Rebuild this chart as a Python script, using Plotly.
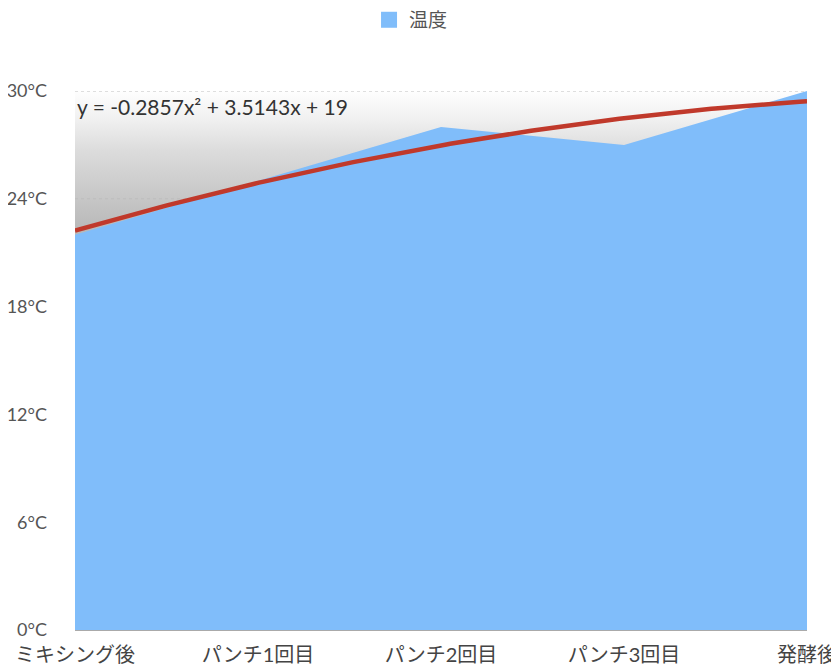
import numpy as np
import plotly.graph_objects as go

# data
categories = ['ミキシング後', 'パンチ1回目', 'パンチ2回目', 'パンチ3回目', '発酵後']
temps = [22, 25, 28, 27, 30]
y_ticks = [0, 6, 12, 18, 24, 30]
y_tick_labels = [f'{t}°C' for t in y_ticks]
series_name = '温度'
trend_label = 'y = -0.2857x² + 3.5143x + 19'

BLUE = '#80bdfa'
RED = '#c0392b'
FONT = 'Lato, Noto Sans CJK JP, sans-serif'

xs = list(range(len(categories)))
# quadratic trendline, fitted on the data (x counted from 1 like the label)
coef = np.polyfit([x + 1 for x in xs], temps, 2)
trend_x = np.linspace(xs[0], xs[-1], 200)
trend_y = np.polyval(coef, trend_x + 1)

fig = go.Figure()
# grey backdrop behind the area
fig.add_trace(go.Scatter(
	x=[xs[0], xs[-1]], y=[max(y_ticks)] * 2, mode='lines', line=dict(width=0),
	fill='tozeroy',
	fillgradient=dict(type='vertical', start=0, stop=max(y_ticks),
		colorscale=[[0, '#a8a8a8'], [0.74, '#b8b8b8'], [0.8, '#c6c6c6'], [0.89, '#dcdcdc'],
			[0.947, '#f0f0f0'], [1, '#fefefe']]),
	showlegend=False, hoverinfo='skip',
))
# dotted grid lines (above the backdrop, below the area)
gx, gy = [], []
for t in y_ticks:
	gx += [xs[0], xs[-1], None]
	gy += [t, t, None]
fig.add_trace(go.Scatter(x=gx, y=gy, mode='lines', line=dict(color='#bdbdbd', width=1, dash='dot'),
	showlegend=False, hoverinfo='skip'))
fig.add_trace(go.Scatter(
	x=xs, y=temps, mode='lines', line=dict(width=0, color=BLUE),
	fill='tozeroy', fillcolor=BLUE, name=series_name, showlegend=False,
))
fig.add_trace(go.Scatter(x=trend_x, y=trend_y, mode='lines', line=dict(color=RED, width=4.5),
	showlegend=False, hoverinfo='skip'))
# legend swatch
fig.add_trace(go.Scatter(x=[None], y=[None], mode='markers', name=series_name,
	marker=dict(symbol='square', size=19, color=BLUE)))

fig.add_annotation(x=0, y=29.15, xref='x', yref='y', text=trend_label, showarrow=False,
	xanchor='left', yanchor='middle', font=dict(family=FONT, size=21, color='#333333'))

# the page body adds an 8px margin, so the figure is sized/shifted to compensate
fig.update_layout(
	width=831, height=662,
	margin=dict(l=67, r=32, t=83, b=40),
	paper_bgcolor='white', plot_bgcolor='white',
	font=dict(family=FONT),
	showlegend=True,
	legend=dict(orientation='h', x=0.485, xanchor='center', xref='container',
		y=0.982, yanchor='middle', yref='container', font=dict(size=19, color='#555555')),
	xaxis=dict(range=[xs[0], xs[-1]], tickvals=xs, ticktext=categories, showgrid=False,
		zeroline=False, showline=True, linecolor='#aaaaaa', linewidth=1, automargin=False,
		ticklabelstandoff=7,
		tickfont=dict(family=FONT, size=20, color='#444444')),
	yaxis=dict(range=[min(y_ticks), max(y_ticks)], tickvals=y_ticks, ticktext=y_tick_labels,
		showgrid=False, zeroline=False, ticklabelstandoff=27, automargin=False,
		tickfont=dict(family=FONT, size=18, color='#555555')),
)

fig.write_html('out.html')
